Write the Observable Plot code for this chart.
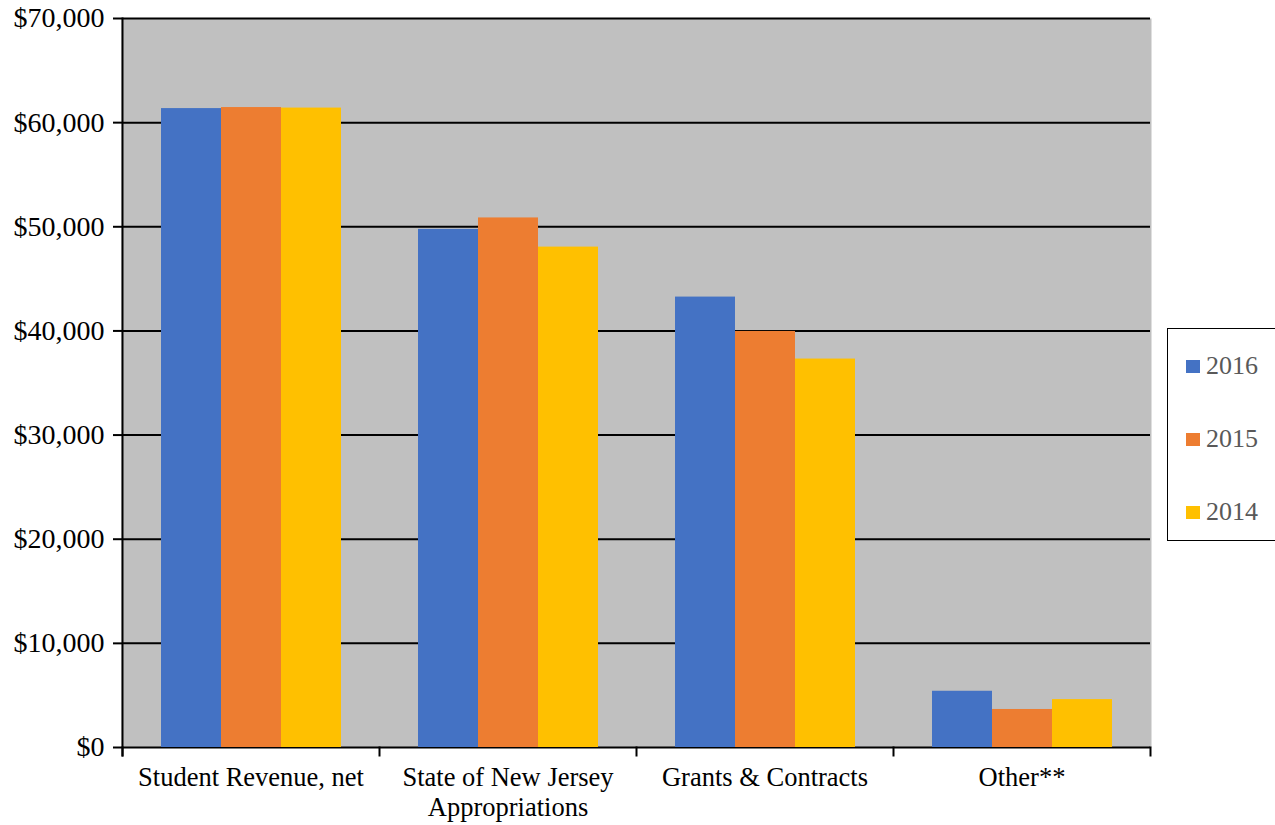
<!DOCTYPE html>
<html>
<head>
<meta charset="utf-8">
<script src="https://cdn.jsdelivr.net/npm/d3@7"></script>
<script src="https://cdn.jsdelivr.net/npm/@observablehq/plot@0.6"></script>
<style>
  html, body { margin: 0; padding: 0; background: #fff; overflow: hidden; }
  #wrap { position: relative; width: 1275px; height: 825px; }
  #legend {
    position: absolute; left: 1167px; top: 328px; width: 120px; height: 213px;
    border: 1.5px solid #000; background: #fff; box-sizing: border-box;
    font-family: "Liberation Serif", "Times New Roman", serif; font-size: 26px; color: #595959;
  }
  .item { position: absolute; left: 18px; display: flex; align-items: center; height: 26px; }
  .sw { width: 14px; height: 13px; margin-right: 6px; }
</style>
</head>
<body>
<div id="wrap"><div id="chart"></div><div id="legend"></div></div>
<script>
const categories = ["Student Revenue, net", "State of New Jersey\nAppropriations", "Grants & Contracts", "Other**"];
const years = ["2016", "2015", "2014"];
const values2016 = [61350, 49750, 43250, 5400];
const values2015 = [61450, 50850, 39950, 3650];
const values2014 = [61400, 48050, 37300, 4600];
const colors = ["#4472C4", "#ED7D31", "#FFC000"];
const yTicks = [0, 10000, 20000, 30000, 40000, 50000, 60000, 70000];

const series = [values2016, values2015, values2014];
const rows = categories.flatMap((c, i) => years.map((y, j) => ({category: c, year: y, value: series[j][i]})));

const W = 1275, H = 825, mT = 18, mB = 78, mL = 121, mR = 125;
const plotH = H - mT - mB;
const fmt = d => "$" + d3.format(",")(d);

const chart = Plot.plot({
  width: W, height: H,
  marginTop: mT, marginBottom: mB, marginLeft: mL, marginRight: mR,
  style: {fontFamily: "'Liberation Serif', 'Times New Roman', serif", fontSize: "26px", color: "#000", background: "#fff"},
  fx: {domain: categories, padding: 0, label: null},
  x: {domain: years, paddingInner: 0, paddingOuter: 0.615, axis: null},
  y: {domain: [0, 70000], label: null},
  color: {domain: years, range: colors},
  marks: [
    Plot.frame({fill: "#C0C0C0", stroke: null, insetLeft: -1, insetRight: -1}),
    Plot.ruleY(yTicks, {stroke: "#000", strokeWidth: 2}),
    Plot.barY(rows, {fx: "category", x: "year", y: "value", fill: "year"}),
    Plot.frame({anchor: "left", facetAnchor: "left", stroke: "#000", strokeWidth: 2, insetBottom: -8}),
    Plot.frame({anchor: "left", stroke: "#000", strokeWidth: 2, insetTop: plotH, insetBottom: -8}),
    Plot.frame({anchor: "right", facetAnchor: "right", stroke: "#000", strokeWidth: 2, insetTop: plotH, insetBottom: -8}),
    Plot.axisY({ticks: yTicks, tickFormat: fmt, tickSize: 9, tickPadding: 9, label: null, fontSize: 28, strokeWidth: 2, stroke: "#000", fill: "#000"}),
    Plot.axisFx({anchor: "bottom", tickSize: 0, tickPadding: 17, label: null, fontSize: 26.5, lineHeight: 1.14, fill: "#000"})
  ]
});
document.getElementById("chart").appendChild(chart);

const legend = document.getElementById("legend");
const rowTops = [24, 97, 170];
years.forEach((y, i) => {
  const it = document.createElement("div");
  it.className = "item";
  it.style.top = rowTops[i] + "px";
  const sw = document.createElement("div");
  sw.className = "sw";
  sw.style.background = colors[i];
  const t = document.createElement("span");
  t.textContent = y;
  it.appendChild(sw); it.appendChild(t);
  legend.appendChild(it);
});
</script>
</body>
</html>
